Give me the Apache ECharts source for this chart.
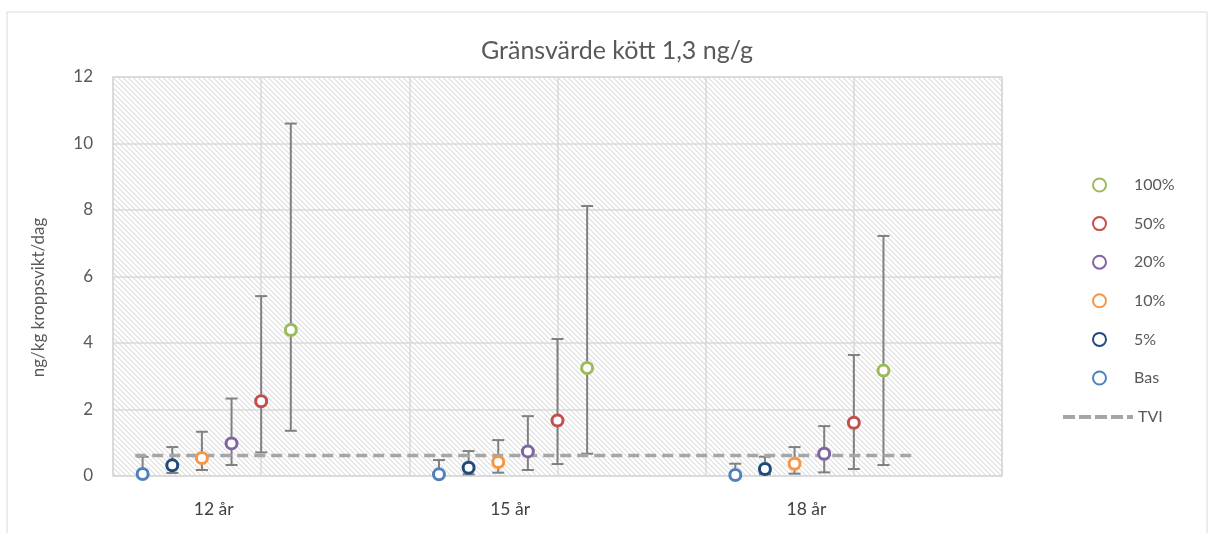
<!DOCTYPE html>
<html lang="sv">
<head>
    <meta charset="UTF-8">
    <title>Gränsvärde kött</title>
    <style>
        * {
            margin: 0px;
            padding: 0px;
        }

        #main {
            width: 1213px;
            height: 533px;
            background-color: #ffffff;
        }
    </style>
</head>
<body>
<div id="main"></div>
<script src="https://cdn.jsdelivr.net/npm/echarts@6/dist/echarts.min.js"></script>
<script type="text/javascript">
    // data
    var groups = ['12 år', '15 år', '18 år'];
    var seriesNames = ['Bas', '5%', '10%', '20%', '50%', '100%'];

    var basMid = [0.06, 0.05, 0.03];
    var basLow = [0.00, 0.00, 0.00];
    var basHigh = [0.58, 0.48, 0.37];

    var p5Mid = [0.32, 0.25, 0.21];
    var p5Low = [0.09, 0.05, 0.05];
    var p5High = [0.87, 0.75, 0.58];

    var p10Mid = [0.54, 0.42, 0.37];
    var p10Low = [0.18, 0.10, 0.07];
    var p10High = [1.33, 1.08, 0.87];

    var p20Mid = [0.98, 0.74, 0.67];
    var p20Low = [0.33, 0.18, 0.11];
    var p20High = [2.33, 1.80, 1.50];

    var p50Mid = [2.25, 1.67, 1.60];
    var p50Low = [0.71, 0.36, 0.21];
    var p50High = [5.41, 4.12, 3.64];

    var p100Mid = [4.39, 3.25, 3.17];
    var p100Low = [1.36, 0.67, 0.33];
    var p100High = [10.6, 8.12, 7.22];

    var tviValue = 0.62;

    var mids = [basMid, p5Mid, p10Mid, p20Mid, p50Mid, p100Mid];
    var lows = [basLow, p5Low, p10Low, p20Low, p50Low, p100Low];
    var highs = [basHigh, p5High, p10High, p20High, p50High, p100High];
    var colors = ['#4f81bd', '#1f497d', '#f79646', '#8064a2', '#c0504d', '#9bbb59'];

    // x layout: each group spans 2 units, markers step 0.2
    function xOf(g, s) {
        return g * 2 + 0.2 * (s + 1);
    }
    var labelPos = groups.map(function (g, i) {
        return i * 2 + 0.68;
    });

    // hatch pattern for plot background
    var tile = document.createElement('canvas');
    tile.width = 5;
    tile.height = 5;
    var ctx = tile.getContext('2d');
    ctx.fillStyle = '#ffffff';
    ctx.fillRect(0, 0, 5, 5);
    ctx.fillStyle = '#e6e6e6';
    for (var px = 0; px < 5; px++) {
        for (var py = 0; py < 5; py++) {
            var d = ((px - py) % 5 + 5) % 5;
            if (d < 2) ctx.fillRect(px, py, 1, 1);
        }
    }

    var errData = [];
    var series = [];
    seriesNames.forEach(function (name, s) {
        var pts = [];
        groups.forEach(function (g, gi) {
            pts.push([xOf(gi, s), mids[s][gi]]);
            errData.push([xOf(gi, s), lows[s][gi], highs[s][gi]]);
        });
        series.push({
            name: name,
            type: 'scatter',
            z: 5,
            symbol: 'circle',
            symbolSize: 11,
            itemStyle: {
                color: '#ffffff',
                borderColor: colors[s],
                borderWidth: 3,
                opacity: 1
            },
            data: pts
        });
    });

    series.push({
        name: 'fel',
        type: 'custom',
        z: 2,
        silent: true,
        renderItem: function (params, api) {
            var lo = api.coord([api.value(0), api.value(1)]);
            var hi = api.coord([api.value(0), api.value(2)]);
            var w = 6;
            var st = {stroke: '#808080', lineWidth: 2};
            return {
                type: 'group',
                children: [
                    {type: 'line', shape: {x1: lo[0], y1: lo[1], x2: hi[0], y2: hi[1]}, style: st},
                    {type: 'line', shape: {x1: lo[0] - w, y1: lo[1], x2: lo[0] + w, y2: lo[1]}, style: st},
                    {type: 'line', shape: {x1: hi[0] - w, y1: hi[1], x2: hi[0] + w, y2: hi[1]}, style: st}
                ]
            };
        },
        encode: {x: 0, y: [1, 2]},
        data: errData
    });

    series.push({
        name: 'TVI',
        type: 'line',
        z: 3,
        symbol: 'none',
        showSymbol: false,
        silent: true,
        lineStyle: {color: '#a6a6a6', width: 3.5, type: [11, 6]},
        itemStyle: {color: '#a6a6a6'},
        data: [[0.15, tviValue], [5.42, tviValue]]
    });

    var dashIcon = 'path://M0,0h12v4h-12z M16,0h12v4h-12z M32,0h12v4h-12z M48,0h12v4h-12z M64,0h6v4h-6z';

    var myChart = echarts.init(document.getElementById('main'));
    myChart.setOption({
        animation: false,
        textStyle: {fontFamily: 'Lato', fontSize: 15, color: '#595959'},
        title: {
            text: 'Gränsvärde kött 1,3 ng/g',
            left: 476,
            top: 33,
            textStyle: {fontFamily: 'Lato', fontSize: 25, fontWeight: 'normal', color: '#595959'}
        },
        graphic: [{
            type: 'rect',
            silent: true,
            shape: {x: 7, y: 12, width: 1200, height: 540},
            style: {fill: 'none', stroke: '#d9d9d9', lineWidth: 1}
        }],
        grid: {
            left: 113,
            top: 77,
            width: 889,
            height: 399,
            show: true,
            backgroundColor: {image: tile, repeat: 'repeat'},
            borderColor: '#d9d9d9',
            borderWidth: 1.5
        },
        legend: [{
            orient: 'vertical',
            left: 1087,
            top: 172,
            itemWidth: 13,
            itemHeight: 13,
            itemGap: 22.6,
            textStyle: {fontSize: 16, color: '#595959', lineHeight: 14, padding: [0, 0, 0, 23]},
            data: ['100%', '50%', '20%', '10%', '5%', 'Bas']
        }, {
            orient: 'vertical',
            left: 1058,
            top: 404,
            itemWidth: 70,
            itemHeight: 14,
            textStyle: {fontSize: 16, color: '#595959', lineHeight: 14},
            data: [{name: 'TVI', icon: dashIcon, itemStyle: {color: '#a6a6a6'}}]
        }],
        xAxis: {
            type: 'value',
            min: 0,
            max: 6,
            interval: 1,
            axisLine: {show: false},
            axisTick: {show: false},
            splitLine: {show: true, lineStyle: {color: '#d9d9d9', width: 1.5}},
            axisLabel: {
                customValues: labelPos,
                margin: 24,
                fontFamily: 'Lato',
                fontSize: 17.5,
                color: '#404040',
                formatter: function (v) {
                    for (var i = 0; i < labelPos.length; i++) {
                        if (Math.abs(labelPos[i] - v) < 0.01) return groups[i];
                    }
                    return '';
                }
            }
        },
        yAxis: {
            type: 'value',
            min: 0,
            max: 12,
            interval: 2,
            name: '{t|ng/kg kroppsvikt/dag}',
            nameLocation: 'middle',
            nameGap: 66,
            nameTextStyle: {
                fontSize: 17,
                color: '#595959',
                rich: {t: {fontFamily: 'Lato', fontSize: 17, color: '#595959', padding: [0, 42, 0, 0]}}
            },
            axisLine: {show: false},
            axisTick: {show: false},
            splitLine: {lineStyle: {color: '#d9d9d9', width: 1.5}},
            axisLabel: {margin: 20, fontFamily: 'Lato', fontSize: 17, color: '#595959'}
        },
        series: series
    });
</script>
</body>
</html>
